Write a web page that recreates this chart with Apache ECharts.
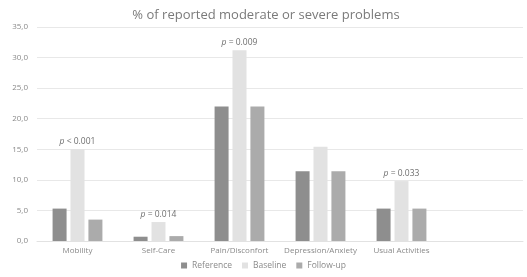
<!DOCTYPE html>
<html><head><meta charset="utf-8">
<script src="https://cdn.jsdelivr.net/npm/echarts@6/dist/echarts.min.js"></script>
<style>html,body{margin:0;padding:0;background:#fff}#c{width:527px;height:277px}</style>
</head><body><div id="c"></div>
<script>
const categories = ['Mobility', 'Self-Care', 'Pain/Disconfort', 'Depression/Anxiety', 'Usual Activities', ''];
const reference = [5.3, 0.7, 22.0, 11.4, 5.3, null];
const baseline = [15.0, 3.1, 31.2, 15.4, 9.8, null];
const followUp = [3.5, 0.8, 22.0, 11.4, 5.3, null];
const pValues = ['< 0.001', '= 0.014', '= 0.009', '', '= 0.033', ''];
const yTicks = [0, 5, 10, 15, 20, 25, 30, 35];

const font = '"Open Sans", "Noto Sans", sans-serif';
const chart = echarts.init(document.getElementById('c'), null, {renderer: 'canvas'});
chart.setOption({
  animation: false,
  textStyle: {fontFamily: font},
  title: {
    text: '% of reported moderate or severe problems',
    left: 261, textAlign: 'center', top: 4,
    textStyle: {fontSize: 13, fontWeight: 'normal', color: '#7a7a7a', fontFamily: font}
  },
  legend: {
    bottom: 2, left: 'center', itemWidth: 6, itemHeight: 6, itemGap: 10,
    icon: 'rect',
    textStyle: {fontSize: 8.5, color: '#8a8a8a', fontFamily: font},
    data: ['Reference', 'Baseline', 'Follow-up']
  },
  grid: {left: 37, right: 4, top: 27, bottom: 36, containLabel: false},
  xAxis: {
    type: 'category', data: categories,
    axisLine: {lineStyle: {color: '#e2e2e2'}},
    axisTick: {show: false},
    axisLabel: {interval: 0, fontSize: 8, color: '#8a8a8a', margin: 6, fontFamily: font}
  },
  yAxis: {
    type: 'value', min: yTicks[0], max: yTicks[yTicks.length - 1], interval: 5,
    axisLine: {show: false}, axisTick: {show: false},
    splitLine: {lineStyle: {color: '#e8e8e8'}},
    axisLabel: {fontSize: 8, color: '#8a8a8a', margin: 9, fontFamily: font,
      formatter: v => v.toFixed(1).replace('.', ',')}
  },
  series: [
    {name: 'Reference', type: 'bar', data: reference, barWidth: 14, barGap: '28%',
      itemStyle: {color: '#8e8e8e'}},
    {name: 'Baseline', type: 'bar', data: baseline, barWidth: 14,
      itemStyle: {color: '#e2e2e2'},
      label: {show: true, position: 'top', distance: 3,
        formatter: p => pValues[p.dataIndex] ? '{i|p} ' + pValues[p.dataIndex] : '',
        fontSize: 8.5, color: '#6f6f6f', fontFamily: font,
        rich: {i: {fontStyle: 'italic', fontSize: 8.5, color: '#6f6f6f', fontFamily: font}}}},
    {name: 'Follow-up', type: 'bar', data: followUp, barWidth: 14,
      itemStyle: {color: '#ababab'}}
  ]
});
</script></body></html>
